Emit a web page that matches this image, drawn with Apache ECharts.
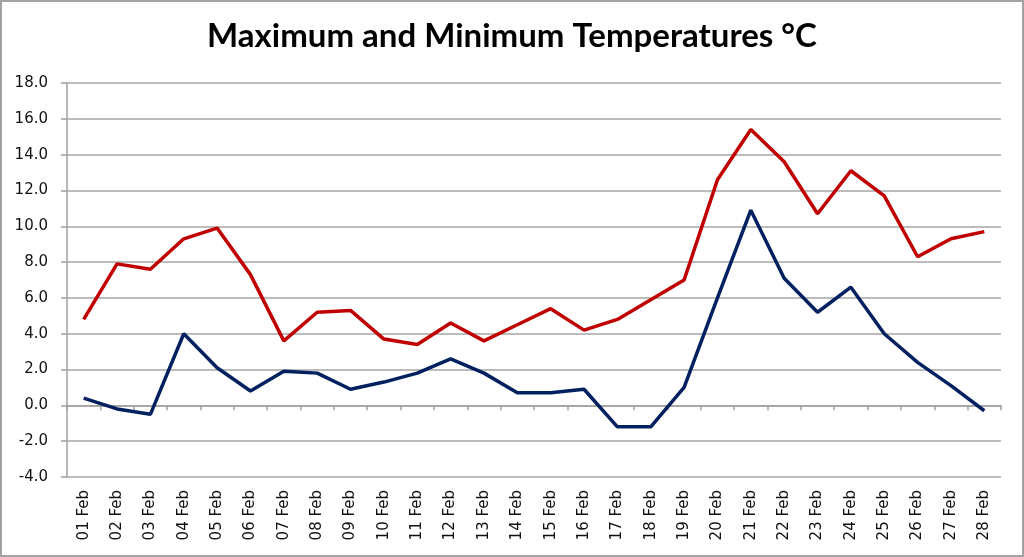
<!DOCTYPE html>
<html>
<head>
<meta charset="utf-8">
<script src="https://cdn.jsdelivr.net/npm/echarts@6/dist/echarts.min.js"></script>
<style>
  html, body { margin: 0; padding: 0; background: #fff; }
  #chart { width: 1024px; height: 557px; position: relative; }
  #frame { position: absolute; left: 0; top: 0; width: 1024px; height: 557px; box-sizing: border-box; border: 2px solid #a3a3a3; pointer-events: none; }
</style>
</head>
<body>
<div id="chart"></div>
<div id="frame"></div>
<script>
const days = ['01 Feb', '02 Feb', '03 Feb', '04 Feb', '05 Feb', '06 Feb', '07 Feb',
  '08 Feb', '09 Feb', '10 Feb', '11 Feb', '12 Feb', '13 Feb', '14 Feb',
  '15 Feb', '16 Feb', '17 Feb', '18 Feb', '19 Feb', '20 Feb', '21 Feb',
  '22 Feb', '23 Feb', '24 Feb', '25 Feb', '26 Feb', '27 Feb', '28 Feb']

const maxTemps = [4.8, 7.9, 7.6, 9.3, 9.9, 7.3, 3.6, 5.2, 5.3, 3.7, 3.4, 4.6, 3.6, 4.5,
  5.4, 4.2, 4.8, 5.9, 7.0, 12.6, 15.4, 13.6, 10.7, 13.1, 11.7, 8.3, 9.3, 9.7]

const minTemps = [0.4, -0.2, -0.5, 4.0, 2.1, 0.8, 1.9, 1.8, 0.9, 1.3, 1.8, 2.6, 1.8, 0.7,
  0.7, 0.9, -1.2, -1.2, 1.0, 6.0, 10.9, 7.1, 5.2, 6.6, 4.0, 2.4, 1.1, -0.3]

const yMin = -4
const yMax = 18
const yStep = 2

const chart = echarts.init(document.getElementById('chart'))

const option = {
  animation: false,
  title: {
    text: 'Maximum and Minimum Temperatures °C',
    left: 'center',
    top: 15,
    textStyle: {
      fontFamily: 'Lato',
      fontWeight: 'bold',
      fontSize: 33,
      color: '#000'
    }
  },
  grid: {
    left: 67,
    right: 23,
    top: 83,
    bottom: 80
  },
  xAxis: {
    type: 'category',
    data: days,
    boundaryGap: true,
    axisLine: { lineStyle: { color: '#a0a0a0', width: 1.5 } },
    axisTick: { show: true, length: 5, lineStyle: { color: '#a0a0a0', width: 1.5 } },
    axisLabel: {
      rotate: 90,
      interval: 0,
      margin: 13,
      color: '#111',
      fontFamily: 'DejaVu Sans',
      fontSize: 15
    }
  },
  yAxis: {
    type: 'value',
    min: yMin,
    max: yMax,
    interval: yStep,
    axisLine: { show: true, lineStyle: { color: '#a0a0a0', width: 1.5 } },
    axisTick: { show: true, length: 6, lineStyle: { color: '#a0a0a0', width: 1.5 } },
    axisLabel: {
      margin: 19,
      color: '#111',
      fontFamily: 'DejaVu Sans',
      fontSize: 15,
      formatter: v => v.toFixed(1)
    },
    splitLine: { lineStyle: { color: '#a6a6a6', width: 1.5 } }
  },
  series: [
    {
      name: 'Maximum',
      type: 'line',
      data: maxTemps,
      symbol: 'none',
      lineStyle: { color: '#c00000', width: 3.5 }
    },
    {
      name: 'Minimum',
      type: 'line',
      data: minTemps,
      symbol: 'none',
      lineStyle: { color: '#002060', width: 3.5 }
    }
  ]
}

chart.setOption(option)
</script>
</body>
</html>
